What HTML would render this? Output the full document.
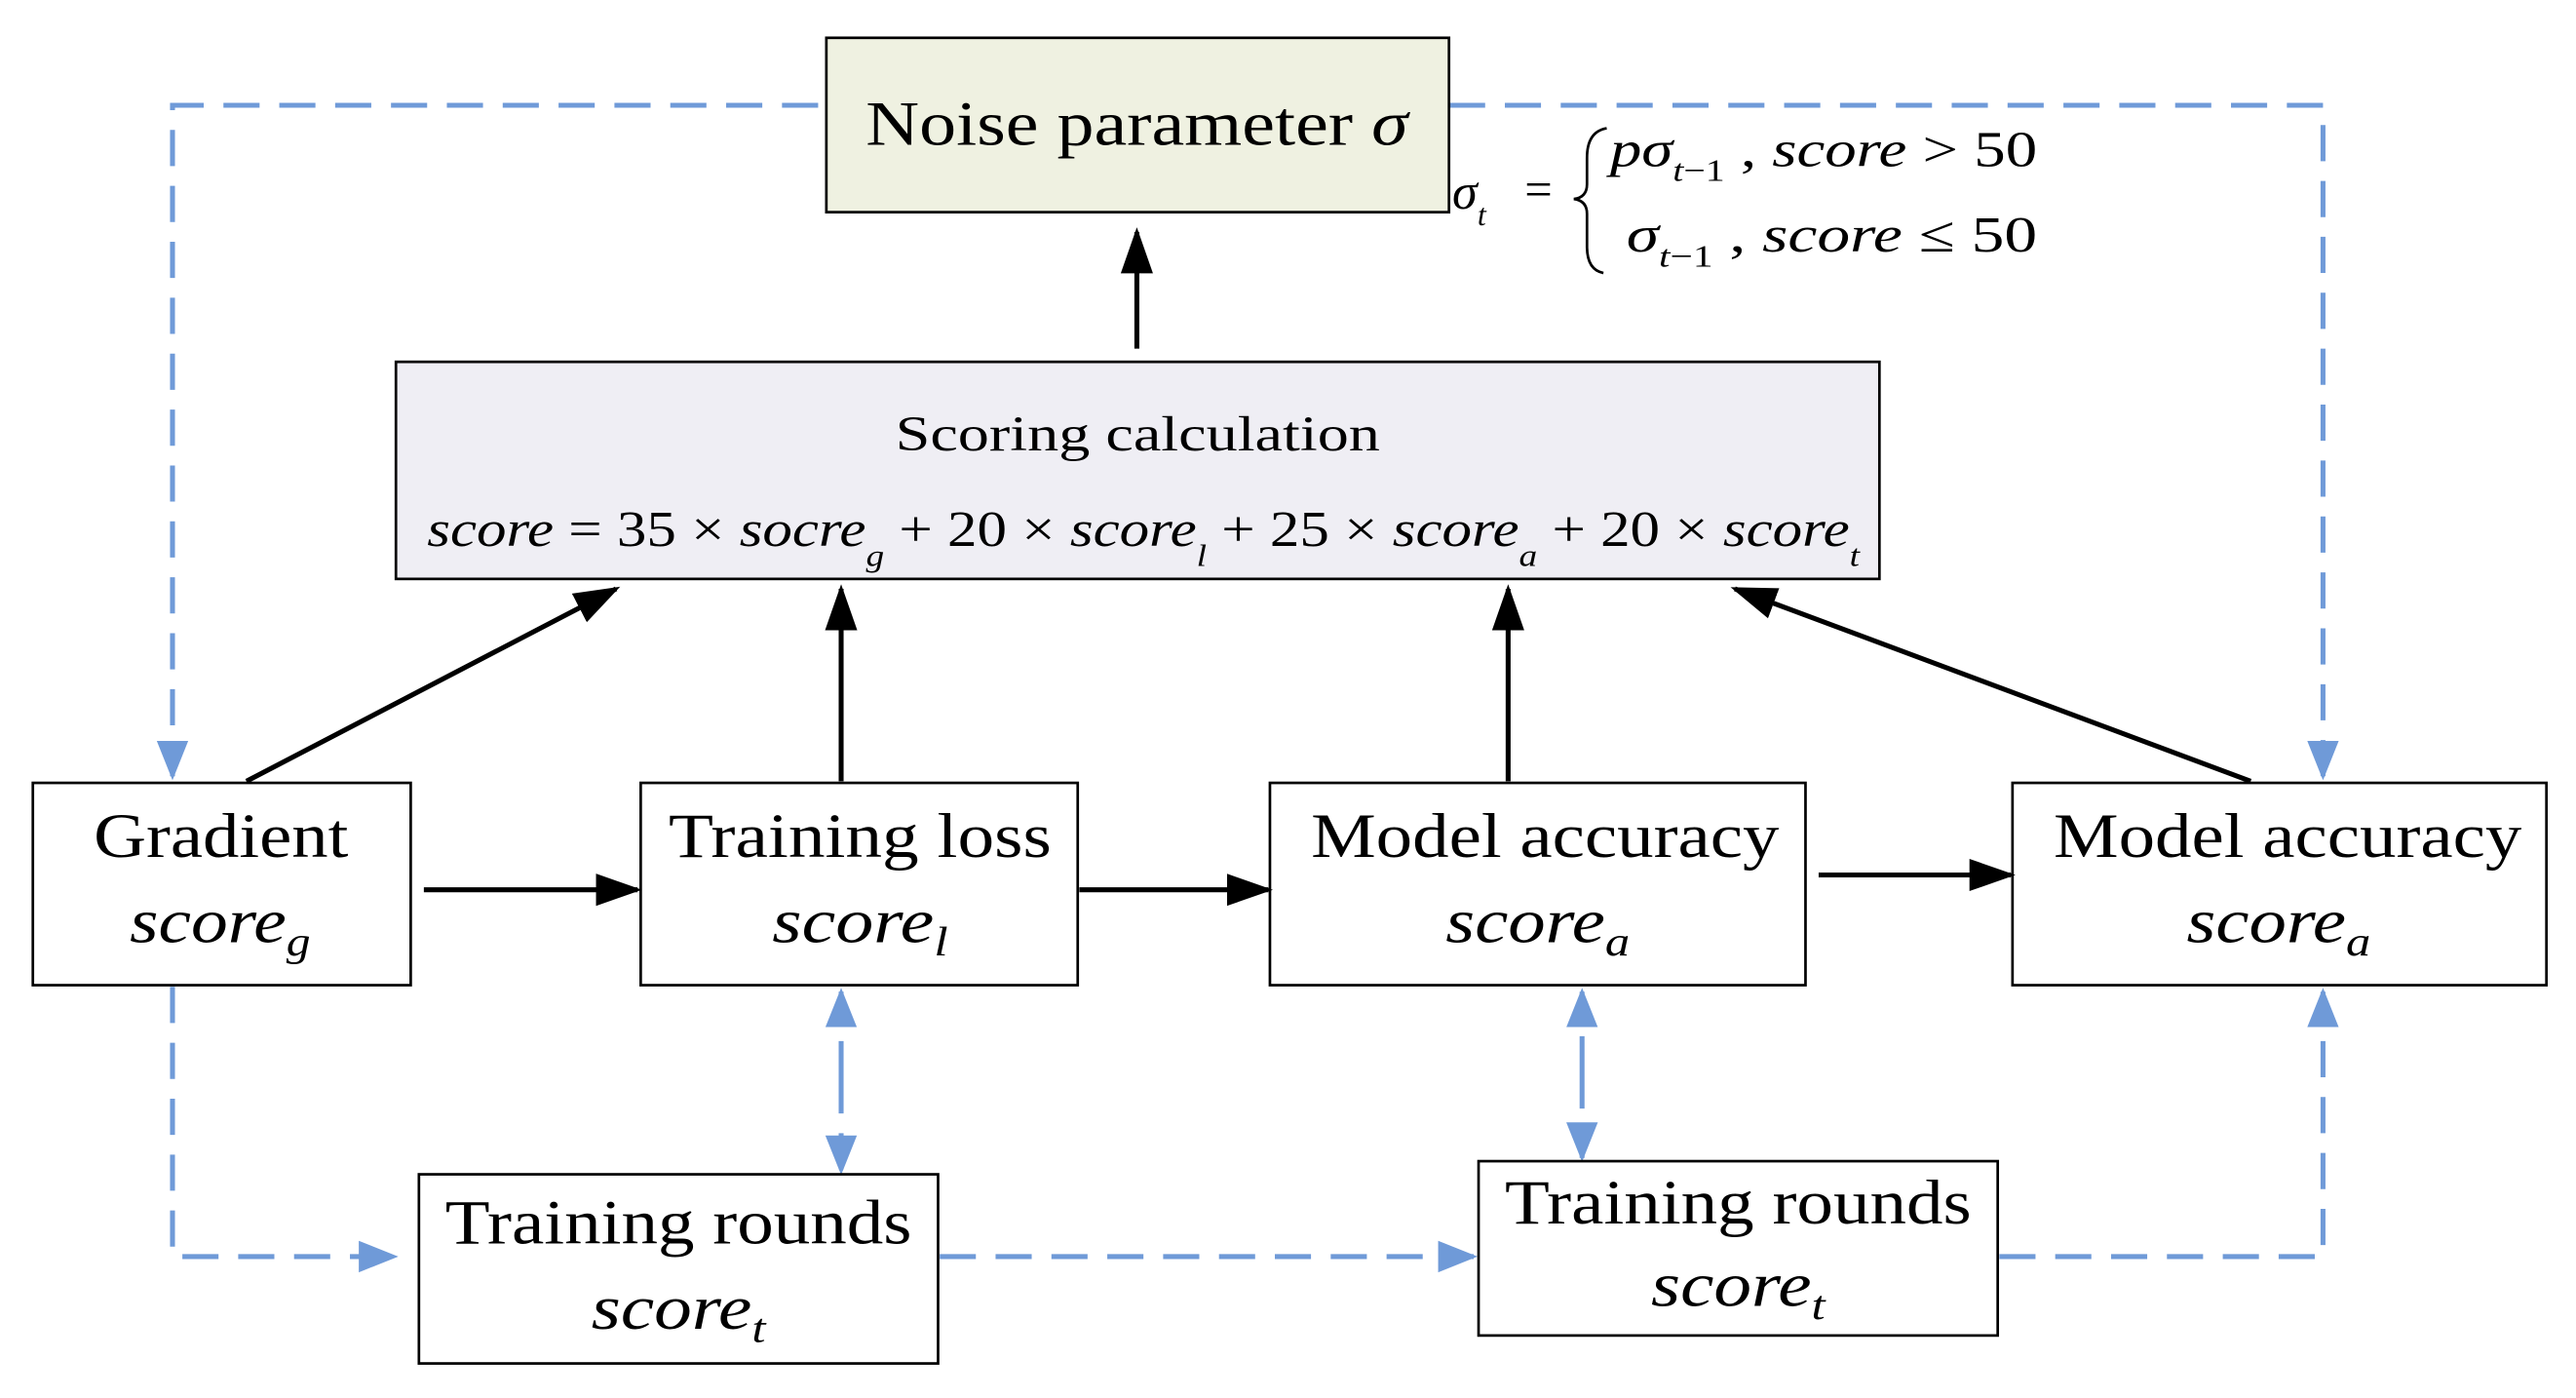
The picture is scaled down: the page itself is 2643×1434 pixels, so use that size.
<!DOCTYPE html>
<html><head><meta charset="utf-8"><style>
html,body{margin:0;padding:0;background:#fff;width:2643px;height:1434px;overflow:hidden}
svg{display:block}
text{font-family:"Liberation Serif",serif;fill:#000}
.i{font-style:italic}
</style></head><body>
<svg width="2643" height="1434" viewBox="0 0 1568 850" preserveAspectRatio="none" xmlns="http://www.w3.org/2000/svg">
<defs>
<marker id="bb" viewBox="0 0 10 10" refX="9" refY="5" markerWidth="24" markerHeight="24" orient="auto" markerUnits="userSpaceOnUse"><path d="M0,1 L10,5 L0,9 z" fill="#6f9ad8"/></marker>
<marker id="bk" viewBox="0 0 10 10" refX="9" refY="5" markerWidth="28" markerHeight="28" orient="auto" markerUnits="userSpaceOnUse"><path d="M0,1.5 L10,5 L0,8.5 z" fill="#000"/></marker>
</defs>
<g fill="none" stroke="#6f9ad8" stroke-width="3" stroke-dasharray="22,12">
<path d="M498,64 H105 V472" marker-end="url(#bb)"/>
<path d="M882,64 H1414 V472" marker-end="url(#bb)"/>
<path d="M105,600 V764 H240" marker-end="url(#bb)"/>
<path d="M572,764 H897" marker-end="url(#bb)"/>
<path d="M1217,764 H1414 V603" marker-end="url(#bb)"/>
<path d="M512,655 V603" marker-end="url(#bb)"/>
<path d="M512,655 V712" marker-end="url(#bb)"/>
<path d="M963,652 V603" marker-end="url(#bb)"/>
<path d="M963,652 V704" marker-end="url(#bb)"/>
</g>
<g stroke="#000" stroke-width="1.6">
<rect x="503" y="23" width="379" height="106" fill="#eff1e1"/>
<rect x="241" y="220" width="903" height="132" fill="#efeef4"/>
<rect x="20" y="476" width="230" height="123" fill="#fff"/>
<rect x="390" y="476" width="266" height="123" fill="#fff"/>
<rect x="773" y="476" width="326" height="123" fill="#fff"/>
<rect x="1225" y="476" width="325" height="123" fill="#fff"/>
<rect x="255" y="714" width="316" height="115" fill="#fff"/>
<rect x="900" y="706" width="316" height="106" fill="#fff"/>
</g>
<g stroke="#000" stroke-width="3" fill="none">
<path d="M692,212 V141" marker-end="url(#bk)"/>
<path d="M150,475 L375,358" marker-end="url(#bk)"/>
<path d="M512,475 V358" marker-end="url(#bk)"/>
<path d="M918,475 V358" marker-end="url(#bk)"/>
<path d="M1370,475 L1056,358" marker-end="url(#bk)"/>
<path d="M258,541 H388" marker-end="url(#bk)"/>
<path d="M657,541 H772" marker-end="url(#bk)"/>
<path d="M1107,532 H1224" marker-end="url(#bk)"/>
</g>
<text x="527" y="88" font-size="38" textLength="330" lengthAdjust="spacingAndGlyphs">Noise parameter <tspan class="i">σ</tspan></text>
<text x="545" y="274" font-size="30" textLength="295" lengthAdjust="spacingAndGlyphs">Scoring calculation</text>
<text x="260" y="332" font-size="31" textLength="872" lengthAdjust="spacingAndGlyphs"><tspan class="i">score</tspan> = 35 × <tspan class="i">socre</tspan><tspan class="i" font-size="19" dy="12">g</tspan><tspan dy="-12"> + 20 × </tspan><tspan class="i">score</tspan><tspan class="i" font-size="19" dy="12">l</tspan><tspan dy="-12"> + 25 × </tspan><tspan class="i">score</tspan><tspan class="i" font-size="19" dy="12">a</tspan><tspan dy="-12"> + 20 × </tspan><tspan class="i">score</tspan><tspan class="i" font-size="19" dy="12">t</tspan></text>
<text x="884" y="127" font-size="31" class="i">σ<tspan font-size="19" dy="10">t</tspan></text>
<text x="928" y="125" font-size="30">=</text>
<path d="M978,78 Q966,80 966,96 V112 Q966,120 958,121 Q966,122 966,130 V150 Q966,164 976,166" fill="none" stroke="#000" stroke-width="1.6"/>
<text x="980" y="101" font-size="31" textLength="260" lengthAdjust="spacingAndGlyphs"><tspan class="i">pσ</tspan><tspan class="i" font-size="19" dy="9">t</tspan><tspan font-size="19">−1</tspan><tspan dy="-9"> , </tspan><tspan class="i">score</tspan> &gt; 50</text>
<text x="990" y="153" font-size="31" textLength="250" lengthAdjust="spacingAndGlyphs"><tspan class="i">σ</tspan><tspan class="i" font-size="19" dy="9">t</tspan><tspan font-size="19">−1</tspan><tspan dy="-9">   , </tspan><tspan class="i">score</tspan> ≤ 50</text>
<g font-size="38">
<text x="57" y="521" textLength="155" lengthAdjust="spacingAndGlyphs">Gradient</text>
<text x="79" y="573" class="i" textLength="110" lengthAdjust="spacingAndGlyphs">score<tspan font-size="25" dy="8">g</tspan></text>
<text x="407" y="521" textLength="233" lengthAdjust="spacingAndGlyphs">Training loss</text>
<text x="470" y="573" class="i" textLength="107" lengthAdjust="spacingAndGlyphs">score<tspan font-size="25" dy="8">l</tspan></text>
<text x="798" y="521" textLength="285" lengthAdjust="spacingAndGlyphs">Model accuracy</text>
<text x="880" y="573" class="i" textLength="112" lengthAdjust="spacingAndGlyphs">score<tspan font-size="25" dy="8">a</tspan></text>
<text x="1250" y="521" textLength="285" lengthAdjust="spacingAndGlyphs">Model accuracy</text>
<text x="1331" y="573" class="i" textLength="112" lengthAdjust="spacingAndGlyphs">score<tspan font-size="25" dy="8">a</tspan></text>
<text x="271" y="756" textLength="284" lengthAdjust="spacingAndGlyphs">Training rounds</text>
<text x="360" y="808" class="i" textLength="106" lengthAdjust="spacingAndGlyphs">score<tspan font-size="25" dy="8">t</tspan></text>
<text x="916" y="744" textLength="284" lengthAdjust="spacingAndGlyphs">Training rounds</text>
<text x="1005" y="794" class="i" textLength="106" lengthAdjust="spacingAndGlyphs">score<tspan font-size="25" dy="8">t</tspan></text>
</g>
</svg>
</body></html>
